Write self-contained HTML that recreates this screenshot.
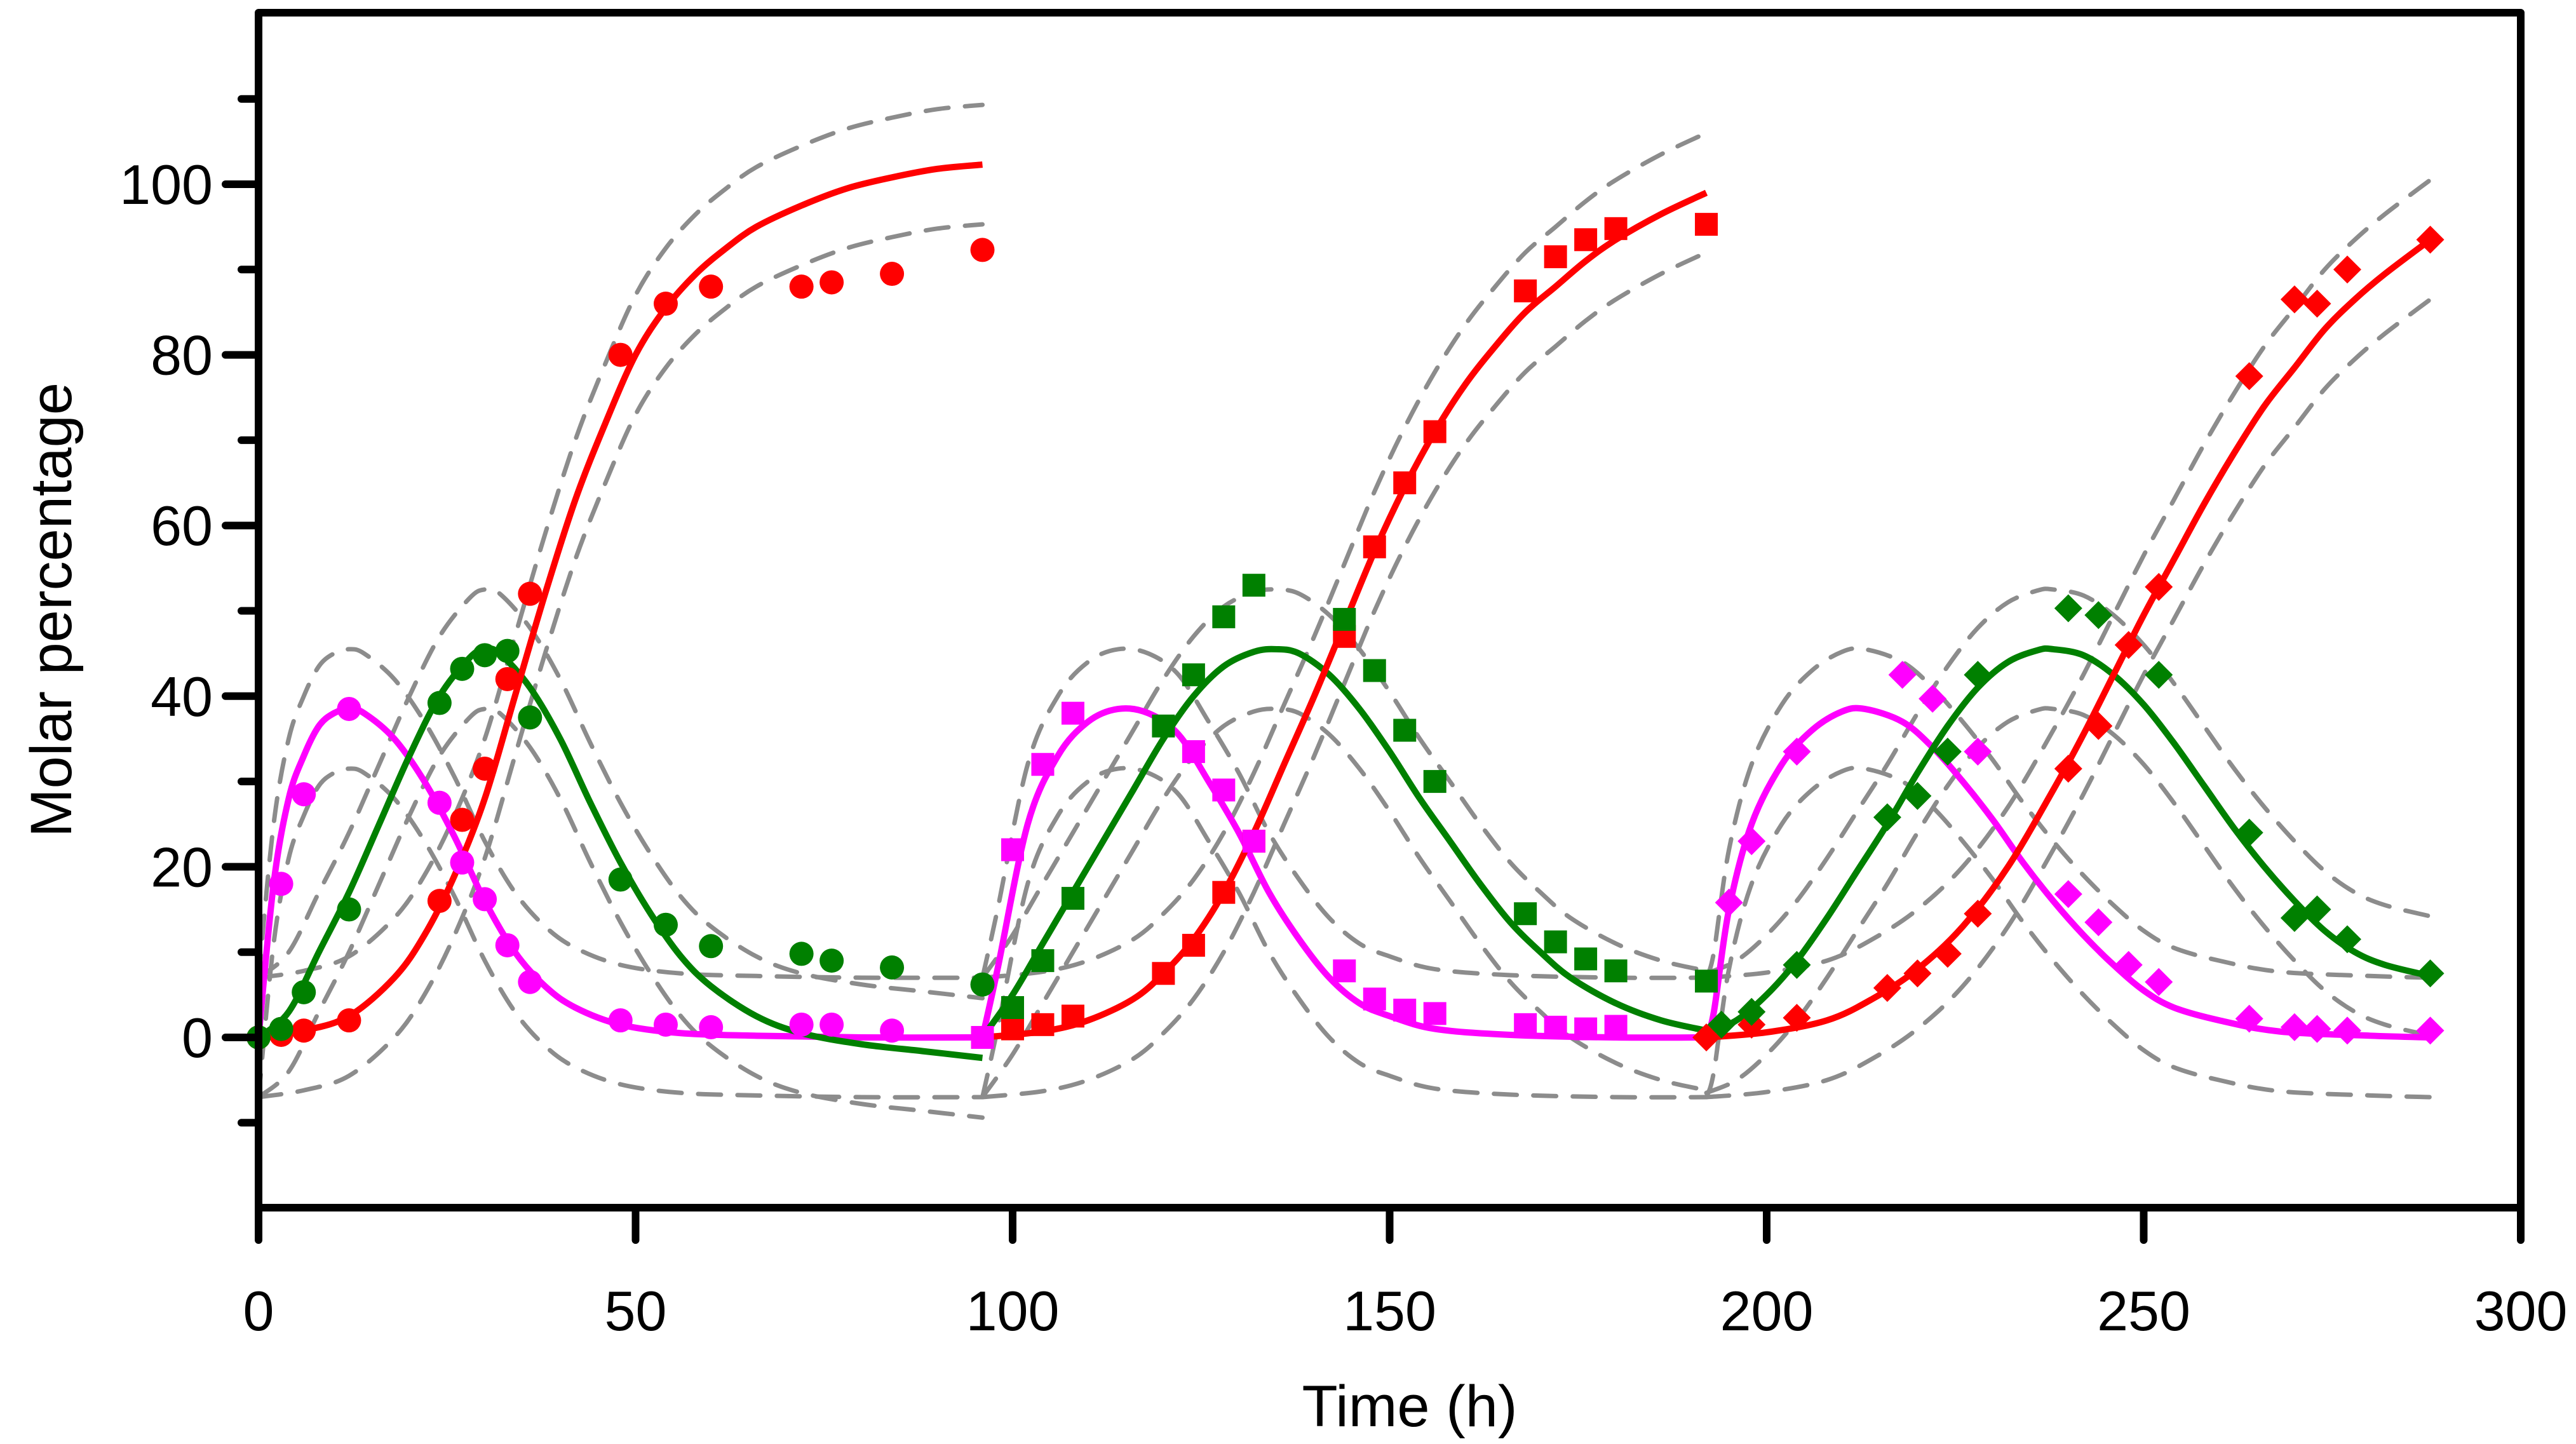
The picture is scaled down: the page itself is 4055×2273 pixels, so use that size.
<!DOCTYPE html>
<html><head><meta charset="utf-8"><style>
html,body{margin:0;padding:0;background:#fff;}
svg{display:block;font-family:"Liberation Sans",Arial,sans-serif;}
</style></head><body>
<svg id="chart" width="4055" height="2273" viewBox="0 0 4055 2273" xmlns="http://www.w3.org/2000/svg">
<g id="bands"></g>
<g id="curves"></g>
<g id="points"></g>
<g id="axes"></g>
<text x="2219" y="2245" font-size="92" text-anchor="middle">Time (h)</text>
<text transform="translate(112,960) rotate(-90)" font-size="92" text-anchor="middle">Molar percentage</text>
</svg>
<script>
const xTicks=[0,50,100,150,200,250,300];
const yTicks=[0,20,40,60,80,100];
const yMinor=[-10,10,30,50,70,90,110];
const bandOffset=7;
// model curves: [t, value]
const magM1=[[0,0],[2,18],[4,28],[6,33],[8,36.5],[10,38],[12,38.5],[14,38],[18,35],[22,30],[26,23.5],[30,16],[34,10],[38,6],[42,3.5],[48,1.5],[56,0.5],[66,0.2],[80,0],[96,0]];
const magM2=[[96,0],[98,8],[102,25],[106,33],[110,37],[114,38.5],[118,38],[122,35.5],[126,30],[130,24],[134,17],[138,11.5],[142,7],[146,4],[150,2.5],[156,1],[166,0.3],[180,0],[192,0]];
const magM3=[[192,0],[193,3],[195,15],[198,25],[202,32],[206,36],[210,38.2],[213,38.5],[218,37],[222,34],[226,30],[230,25.5],[234,20.5],[238,16],[242,12],[246,8.5],[250,5.5],[254,3.5],[260,2],[268,0.7],[280,0.2],[288,0]];
const grnM1=[[0,0],[4,3],[8,10],[12,17],[16,25],[20,33],[24,40],[28,44.5],[30,45.5],[32,45],[36,41],[40,35],[44,27.5],[48,20.5],[52,14.5],[56,9.5],[60,6],[66,2.5],[72,0.5],[80,-0.8],[88,-1.6],[96,-2.4]];
const grnM2=[[96,0],[100,5],[104,11],[108,17],[112,23],[116,29],[120,35],[124,40],[128,43.5],[132,45.2],[135,45.5],[138,45],[142,42.5],[146,38.5],[150,33.5],[154,28],[158,23],[162,18],[166,13.5],[170,10],[174,7],[180,4],[186,2],[192,0.8]];
const grnM3=[[192,0.5],[196,2],[200,5],[204,9],[208,14],[212,19.5],[216,25],[220,31],[224,36.5],[228,41],[232,44],[236,45.4],[238,45.5],[242,44.8],[246,42.5],[250,39],[254,34.5],[258,29.5],[262,24.5],[266,20],[270,16],[274,12.5],[278,10],[282,8.5],[288,7.2]];
const redM1=[[0,0],[6,0.8],[12,2.5],[18,7],[22,12],[26,19],[30,28],[34,40],[38,52],[42,63],[46,72],[50,80],[54,85.5],[58,89.5],[62,92.5],[66,95],[72,97.5],[78,99.5],[84,100.8],[90,101.8],[96,102.3]];
const redM2=[[96,0],[104,0.7],[110,2],[116,4.5],[120,7.5],[124,11.5],[128,17],[132,24],[136,32],[140,40],[144,48.5],[148,57],[152,64.5],[156,71],[160,76.5],[164,81],[168,85],[172,88],[176,91],[180,93.5],[186,96.5],[192,99]];
const redM3=[[192,0],[200,0.6],[208,2],[214,4.5],[220,8],[226,13],[232,20],[238,29],[242,35.5],[246,42.5],[250,49.5],[254,56],[258,62.5],[262,68.5],[266,74],[270,78.5],[274,83],[278,86.5],[282,89.5],[288,93.5]];
// observations
const redD1=[[0,0],[3,0.3],[6,0.8],[12,2],[24,16],[27,25.5],[30,31.5],[33,42],[36,52],[48,80],[54,86],[60,88],[72,88],[76,88.5],[84,89.5],[96,92.3]];
const magD1=[[3,18],[6,28.5],[12,38.5],[24,27.5],[27,20.5],[30,16.2],[33,10.8],[36,6.5],[48,2],[54,1.5],[60,1.2],[72,1.5],[76,1.5],[84,0.8]];
const grnD1=[[0,0],[3,1],[6,5.3],[12,15],[24,39.2],[27,43.2],[30,44.8],[33,45.3],[36,37.5],[48,18.5],[54,13.2],[60,10.7],[72,9.8],[76,9],[84,8.2],[96,6.2]];
const redD2=[[96,0],[100,1],[104,1.5],[108,2.5],[120,7.5],[124,10.8],[128,17],[132,23],[144,47],[148,57.5],[152,65],[156,71],[168,87.5],[172,91.5],[176,93.5],[180,94.8],[192,95.3]];
const grnD2=[[100,3.5],[104,9],[108,16.3],[120,36.5],[124,42.5],[128,49.3],[132,53],[144,49],[148,43],[152,36],[156,30],[168,14.5],[172,11.2],[176,9.2],[180,7.8],[192,6.6]];
const magD2=[[96,0],[100,22],[104,32],[108,38],[124,33.5],[128,29],[132,23],[144,7.8],[148,4.5],[152,3.2],[156,2.8],[168,1.5],[172,1.2],[176,1],[180,1.3]];
const redD3=[[192,0],[198,1.5],[204,2.3],[216,5.8],[220,7.5],[224,9.8],[228,14.5],[240,31.5],[244,36.5],[248,46],[252,52.8],[264,77.5],[270,86.5],[273,86],[277,90],[288,93.5]];
const grnD3=[[194,1.5],[198,3],[204,8.5],[216,25.8],[220,28.3],[224,33.5],[228,42.5],[240,50.3],[244,49.5],[252,42.5],[264,24],[270,14],[273,15],[277,11.5],[288,7.5]];
const magD3=[[195,15.8],[198,23],[204,33.5],[218,42.5],[222,39.7],[228,33.5],[240,16.8],[244,13.5],[248,8.5],[252,6.5],[264,2.2],[270,1.2],[273,1],[277,0.8],[288,0.8]];

const NS="http://www.w3.org/2000/svg";
const X=t=>407+(t/300)*(3968-407);
const Y=v=>1633-v*13.43;
function mk(tag,attrs,parent){const e=document.createElementNS(NS,tag);for(const k in attrs)e.setAttribute(k,attrs[k]);parent.appendChild(e);return e;}
function pathD(pts){
  const p=pts.map(a=>[X(a[0]),Y(a[1])]);
  let d="M"+p[0][0]+","+p[0][1];
  for(let i=0;i<p.length-1;i++){
    const p0=p[Math.max(0,i-1)],p1=p[i],p2=p[i+1],p3=p[Math.min(p.length-1,i+2)];
    const c1=[p1[0]+(p2[0]-p0[0])/6,p1[1]+(p2[1]-p0[1])/6];
    const c2=[p2[0]-(p3[0]-p1[0])/6,p2[1]-(p3[1]-p1[1])/6];
    d+=" C"+c1+" "+c2+" "+p2;
  }
  return d;
}
const bands=document.getElementById('bands'),curves=document.getElementById('curves'),points=document.getElementById('points'),axes=document.getElementById('axes');
const models=[[magM1,'#ff00ff','magenta'],[magM2,'#ff00ff','magenta'],[magM3,'#ff00ff','magenta'],[grnM1,'#008000','green'],[grnM2,'#008000','green'],[grnM3,'#008000','green'],[redM1,'#ff0000','red'],[redM2,'#ff0000','red'],[redM3,'#ff0000','red']];
models.forEach(([m,c,n])=>{
  [bandOffset,-bandOffset].forEach(o=>{
    const e=mk('path',{d:pathD(m.map(a=>[a[0],a[1]+o])),fill:'none',stroke:'#8c8c8c','stroke-width':7,'stroke-dasharray':'36 26','stroke-linecap':'round'},bands);
    
    
  });
});
models.forEach(([m,c,n])=>{
  const e=mk('path',{d:pathD(m),fill:'none',stroke:c,'stroke-width':10},curves);
  
  
});
function circle(x,y,c){return mk('circle',{cx:x,cy:y,r:19,fill:c},points);}
function square(x,y,c){return mk('rect',{x:x-18,y:y-18,width:36,height:36,fill:c},points);}
function diamond(x,y,c){return mk('polygon',{points:`${x},${y-22} ${x+22},${y} ${x},${y+22} ${x-22},${y}`,fill:c},points);}
const sets=[[redD1,'#ff0000',circle,'red'],[grnD1,'#008000',circle,'green'],[magD1,'#ff00ff',circle,'magenta'],
[redD2,'#ff0000',square,'red'],[grnD2,'#008000',square,'green'],[magD2,'#ff00ff',square,'magenta'],
[redD3,'#ff0000',diamond,'red'],[grnD3,'#008000',diamond,'green'],[magD3,'#ff00ff',diamond,'magenta']];
sets.forEach(([d,c,f,n])=>d.forEach(a=>{
  const e=f(X(a[0]),Y(a[1]),c);
  
  
}));
const fr=mk('rect',{x:407,y:20,width:3968-407,height:1901-20,fill:'none',stroke:'#000','stroke-width':12,'stroke-linejoin':'round'},axes);


xTicks.forEach(t=>{
  const l=mk('line',{x1:X(t),x2:X(t),y1:1901,y2:1952,stroke:'#000','stroke-width':12,'stroke-linecap':'round'},axes);
  
  
  const tx=mk('text',{x:X(t),y:2094,'font-size':88,'text-anchor':'middle'},axes);
  tx.textContent=t;
  
  
});
yTicks.forEach(v=>{
  const l=mk('line',{x1:355,x2:407,y1:Y(v),y2:Y(v),stroke:'#000','stroke-width':12,'stroke-linecap':'round'},axes);
  
  
  const tx=mk('text',{x:335,y:Y(v)+31,'font-size':88,'text-anchor':'end'},axes);
  tx.textContent=v;
  
  
});
yMinor.forEach(v=>{
  const l=mk('line',{x1:380,x2:407,y1:Y(v),y2:Y(v),stroke:'#000','stroke-width':12,'stroke-linecap':'round'},axes);
  
  
});
</script>
</body></html>
